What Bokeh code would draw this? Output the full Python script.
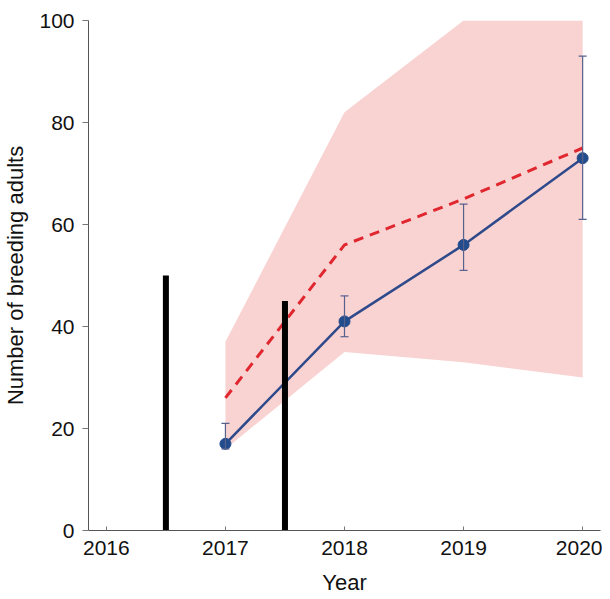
from bokeh.plotting import figure
from bokeh.models import ColumnDataSource, Whisker, TeeHead, FixedTicker, Range1d
from bokeh.embed import file_html
from bokeh.resources import INLINE

years = [2017, 2018, 2019, 2020]
observed = [17, 41, 56, 73]
obs_lower = [16, 38, 51, 61]
obs_upper = [21, 46, 64, 93]
predicted = [26, 56, 65, 75]
band_lower = [16, 35, 33, 30]
band_upper = [37, 82, 100, 100]
event_years = [2016.5, 2017.5]
event_heights = [50, 45]
x_ticks = [2016, 2017, 2018, 2019, 2020]
y_ticks = [0, 20, 40, 60, 80, 100]

p = figure(width=602, height=598, output_backend="svg", toolbar_location=None,
           x_range=Range1d(2015.85, 2020.15), y_range=Range1d(0, 100))
p.min_border_left = 88
p.min_border_right = 2
p.min_border_top = 20
p.min_border_bottom = 68
p.outline_line_color = None
p.xgrid.visible = False
p.ygrid.visible = False

p.varea(x=years, y1=band_lower, y2=band_upper, fill_color="#f9d2d2", fill_alpha=1.0)
p.line(years, predicted, line_color="#e0262e", line_width=3, line_dash="10 7")

src = ColumnDataSource(dict(x=years, y=observed, lo=obs_lower, hi=obs_upper))
wh = Whisker(source=src, base="x", lower="lo", upper="hi", line_color="#56618c", line_width=1.2,
             level="overlay",
             upper_head=TeeHead(size=8, line_color="#56618c", line_width=1.2),
             lower_head=TeeHead(size=8, line_color="#56618c", line_width=1.2))
p.add_layout(wh)
p.line("x", "y", source=src, line_color="#2e4a8a", line_width=2.5)
p.scatter("x", "y", source=src, marker="circle", size=11, fill_color="#234c8c", line_color="#234c8c")

p.segment(x0=event_years, y0=[0, 0], x1=event_years, y1=event_heights, line_color="black", line_width=6)

for ax in (p.xaxis[0], p.yaxis[0]):
    ax.axis_line_color = "#555555"
    ax.major_tick_line_color = "#777777"
    ax.minor_tick_line_color = None
    ax.major_label_text_font = "Liberation Sans"
    ax.major_label_text_font_size = "21px"
    ax.major_label_text_color = "#111111"
    ax.axis_label_text_font = "Liberation Sans"
    ax.axis_label_text_font_size = "22px"
    ax.axis_label_text_font_style = "normal"
    ax.axis_label_text_color = "#111111"

p.xaxis.ticker = FixedTicker(ticks=x_ticks)
p.yaxis.ticker = FixedTicker(ticks=y_ticks)
p.xaxis.axis_label = "Year"
p.yaxis.axis_label = "Number of breeding adults"
p.xaxis.major_tick_in = 4
p.xaxis.major_tick_out = 0
p.yaxis.major_tick_in = 0
p.yaxis.major_tick_out = 6
p.xaxis.major_label_standoff = 10
p.yaxis.major_label_standoff = 8
p.xaxis.axis_label_standoff = 12
p.yaxis.axis_label_standoff = 8

open("out.html", "w").write(file_html(p, INLINE))
